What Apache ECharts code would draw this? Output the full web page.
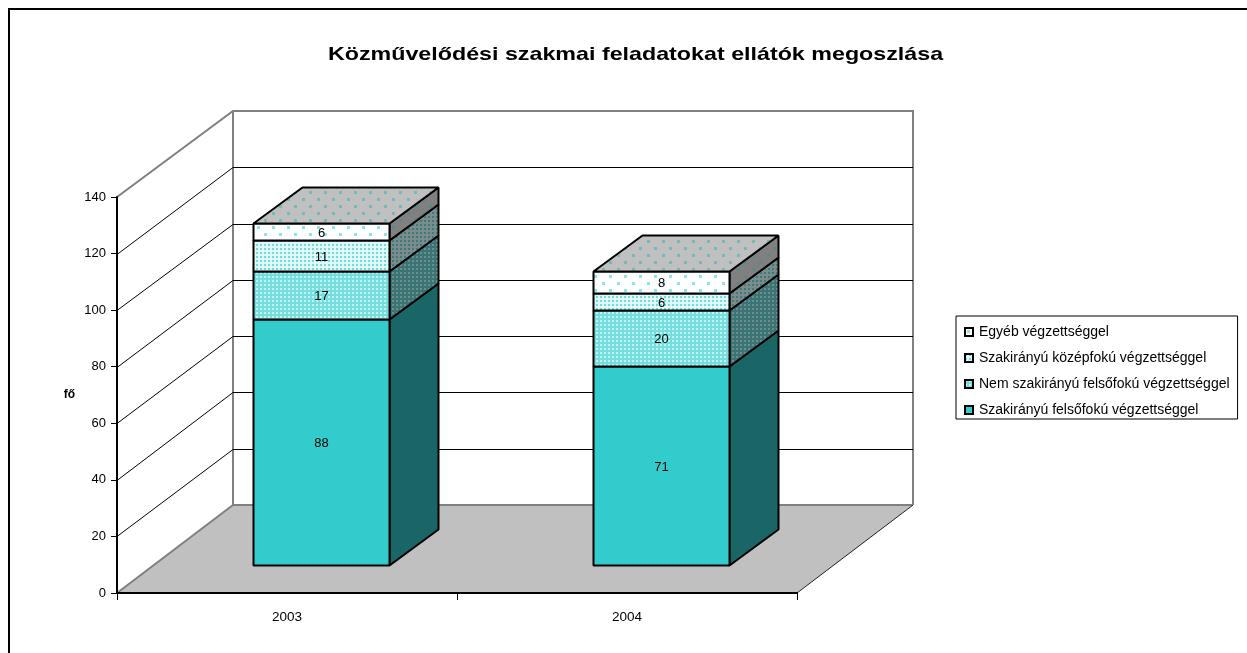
<!DOCTYPE html>
<html>
<head>
<meta charset="utf-8">
<style>html,body{margin:0;padding:0;background:#fff}#c{width:1247px;height:653px}</style>
<script src="https://cdn.jsdelivr.net/npm/echarts@6/dist/echarts.min.js"></script>
</head>
<body>
<div id="c"></div>
<script>
const titleText = 'Közművelődési szakmai feladatokat ellátók megoszlása';
const axisName = 'fő';
const categories = ['2003', '2004'];
const tickValues = [0, 20, 40, 60, 80, 100, 120, 140];
const szakFelso = [88, 71];
const nemFelso = [17, 20];
const szakKozep = [11, 6];
const egyeb = [6, 8];
const seriesNames = [
  'Szakirányú felsőfokú végzettséggel',
  'Nem szakirányú felsőfokú végzettséggel',
  'Szakirányú középfokú végzettséggel',
  'Egyéb végzettséggel'
];
const seriesValues = [szakFelso, nemFelso, szakKozep, egyeb];

const FONT = '"Liberation Sans", Arial, sans-serif';
function pattern(bg, fg, w, h, dots, s) {
  const cv = document.createElement('canvas');
  cv.width = w; cv.height = h;
  const g = cv.getContext('2d');
  g.fillStyle = bg; g.fillRect(0, 0, w, h);
  g.fillStyle = fg;
  dots.forEach(d => g.fillRect(d[0], d[1], s, s));
  return { image: cv, repeat: 'repeat' };
}
const SPARSE = [15, 14, [[2, 2], [9, 9]], 3];
const DOTS = [4, 4, [[0, 0]], 2];
const CHECK = [4, 4, [[0, 0]], 2];
const styles = [
  { front: '#33CCCC', side: '#1A6666' },
  { front: pattern('#74DEDE', '#C4F2F2', ...CHECK), side: pattern('#3A7474', '#6E8E8E', ...CHECK) },
  { front: pattern('#E2F8F8', '#6FDCDC', ...DOTS), side: pattern('#7A8C8C', '#3F7A7A', ...DOTS) },
  { front: pattern('#FFFFFF', '#8CE4E4', ...SPARSE), side: pattern('#808080', '#5A8888', ...SPARSE) }
];
const topFill = pattern('#C0C0C0', '#74BABA', ...SPARSE);

const DEPTH_X = 49, DEPTH_Y = 36;
const BAR_RATIO = 0.4;
const WALL_X = 116, WALL_Y = 88, WALL_SCALE = 0.995;

function renderBar(sIdx) {
  return function (params, api) {
    const idx = api.value(0);
    const w = api.size([1, 0])[0] * BAR_RATIO;
    const b = api.coord([idx, api.value(1)]);
    const t = api.coord([idx, api.value(2)]);
    const xL = Math.round(b[0] - w / 2) + 0.5, xR = xL + Math.round(w);
    const yB = Math.round(b[1]) + 0.5, yT = Math.round(t[1]) + 0.5;
    const stroke = { stroke: '#000', lineWidth: 2, lineJoin: 'bevel' };
    const children = [
      { type: 'polygon', shape: { points: [[xR, yB], [xR + DEPTH_X, yB - DEPTH_Y], [xR + DEPTH_X, yT - DEPTH_Y], [xR, yT]] },
        style: Object.assign({ fill: styles[sIdx].side }, stroke) },
      { type: 'rect', shape: { x: xL, y: yT, width: xR - xL, height: yB - yT },
        style: Object.assign({ fill: styles[sIdx].front }, stroke) }
    ];
    if (sIdx === seriesValues.length - 1) {
      children.push({ type: 'polygon', shape: { points: [[xL, yT], [xL + DEPTH_X, yT - DEPTH_Y], [xR + DEPTH_X, yT - DEPTH_Y], [xR, yT]] },
        style: Object.assign({ fill: topFill }, stroke) });
    }
    children.push({ type: 'text', z2: 10, style: { text: String(api.value(3)), x: (xL + xR) / 2, y: (yB + yT) / 2 + 1,
      align: 'center', verticalAlign: 'middle', font: '13px ' + FONT, fill: '#000' } });
    return { type: 'group', children };
  };
}

function renderWall(params, api) {
  const cs = params.coordSys;
  const tick = api.value(1);
  const x0 = cs.x, x1 = cs.x + cs.width, y0 = cs.y + cs.height;
  const p = api.coord([0, tick])[1];
  const yFront = Math.round(p) + 0.5;
  const yBack = Math.round(y0 - WALL_Y - (y0 - p) * WALL_SCALE) + 0.5;
  const bx0 = x0 + WALL_X, bx1 = x1 + WALL_X;
  const yFloor = y0 - WALL_Y;
  const children = [];
  if (tick === 0) {
    const top = y0 - WALL_Y - cs.height * WALL_SCALE;
    children.push({ type: 'polygon', shape: { points: [[x0, y0], [bx0, yFloor], [bx1, yFloor], [x1, y0]] },
      style: { fill: '#C0C0C0', stroke: null } });
    children.push({ type: 'polyline', shape: { points: [[x0, y0], [bx0, yFloor], [bx1, yFloor]] },
      style: { fill: null, stroke: '#808080', lineWidth: 2 } });
    children.push({ type: 'line', shape: { x1: x1, y1: y0, x2: bx1, y2: yFloor },
      style: { stroke: '#222', lineWidth: 1 } });
    children.push({ type: 'polyline', shape: { points: [[x0, cs.y], [bx0, top], [bx1, top], [bx1, yFloor]] },
      style: { fill: null, stroke: '#808080', lineWidth: 2 } });
    children.push({ type: 'line', shape: { x1: bx0, y1: top, x2: bx0, y2: yFloor },
      style: { stroke: '#808080', lineWidth: 2 } });
  } else if (tick !== tickValues[tickValues.length - 1]) {
    children.push({ type: 'polyline', shape: { points: [[x0, yFront], [bx0, yBack], [bx1, yBack]] },
      style: { fill: null, stroke: '#000', lineWidth: 1 } });
  }
  return { type: 'group', children };
}

const barSeries = seriesNames.map((name, i) => {
  const data = categories.map((c, k) => {
    let start = 0;
    for (let j = 0; j < i; j++) start += seriesValues[j][k];
    return [k, start, start + seriesValues[i][k], seriesValues[i][k]];
  });
  return {
    name, type: 'custom', xAxisIndex: 1, yAxisIndex: 1, z: 5, silent: true,
    itemStyle: { color: styles[i].front },
    encode: { x: 0, y: [1, 2] }, data, renderItem: renderBar(i)
  };
});

const option = {
  animation: false,
  backgroundColor: '#fff',
  legend: {
    orient: 'vertical', left: 956, top: 316, selectedMode: false,
    backgroundColor: '#fff', borderColor: '#000', borderWidth: 1, borderRadius: 0,
    padding: [9, 8, 2, 8], itemWidth: 8, itemHeight: 8, itemGap: 12,
    icon: 'rect',
    itemStyle: { borderColor: '#000', borderWidth: 2 },
    textStyle: { fontFamily: FONT, fontSize: 14, color: '#000', padding: [1, 0, 0, 1] },
    data: seriesNames.map((n, i) => ({ name: n, itemStyle: { color: styles[i].front, borderColor: '#000', borderWidth: 2 } })).reverse()
  },
  grid: [
    { left: 117, top: 197, width: 680, height: 396 },
    { left: 151, top: 173, width: 680, height: 392 }
  ],
  xAxis: [
    {
      type: 'category', gridIndex: 0, data: categories, z: 10,
      axisLine: { lineStyle: { color: '#000', width: 2 } },
      axisTick: { show: true, alignWithLabel: false, length: 7, lineStyle: { color: '#000', width: 1 } },
      axisLabel: { margin: 17, fontFamily: FONT, fontSize: 13.5, color: '#000' }
    },
    { type: 'category', gridIndex: 1, data: categories, show: false }
  ],
  yAxis: [
    {
      type: 'value', gridIndex: 0, min: 0, max: 140, interval: 20, z: 10,
      name: axisName, nameLocation: 'middle', nameRotate: 0, nameGap: 42,
      nameTextStyle: { fontFamily: FONT, fontWeight: 'bold', fontSize: 12, color: '#000' },
      axisLine: { show: true, lineStyle: { color: '#000', width: 2 } },
      axisTick: { show: true, length: 6, lineStyle: { color: '#000', width: 1 } },
      axisLabel: { margin: 11, fontFamily: FONT, fontSize: 13, color: '#000' },
      splitLine: { show: false }
    },
    { type: 'value', gridIndex: 1, min: 0, max: 140, show: false }
  ],
  series: [
    { type: 'custom', xAxisIndex: 0, yAxisIndex: 0, z: 1, silent: true, encode: { y: 1 },
      data: tickValues.map(t => [0, t]), renderItem: renderWall }
  ].concat(barSeries),
  graphic: [
    { type: 'polyline', silent: true, z: 20, shape: { points: [[9, 653], [9, 9], [1247, 9]] },
      style: { fill: null, stroke: '#000', lineWidth: 2 } },
    { type: 'text', silent: true, z: 20, x: 635.5, y: 55, scaleX: 1.224,
      style: { text: titleText, x: 0, y: 0, align: 'center', verticalAlign: 'middle',
        font: 'bold 19px ' + FONT, fill: '#000' } }
  ]
};
const chart = echarts.init(document.getElementById('c'), null, { renderer: 'canvas' });
chart.setOption(option);
</script>
</body>
</html>
